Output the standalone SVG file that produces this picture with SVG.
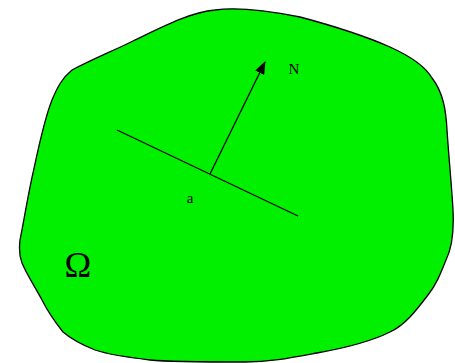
<svg xmlns="http://www.w3.org/2000/svg" width="455" height="363" viewBox="0 0 455 363">
<defs>
<marker id="ah" viewBox="0 0 13 10" refX="12" refY="5" markerWidth="13" markerHeight="10" orient="auto" markerUnits="userSpaceOnUse">
<path d="M0,0 L13,5 L0,10 z" fill="#000"/>
</marker>
<style>
.t{font-family:"Liberation Serif",serif;fill:#000;}
</style>
</defs>
<rect width="455" height="363" fill="#fff"/>
<g id="region">
<path d="M72,70 C95,58 115,50 133,41 C160,28 190,12 215,10 C235,7 260,9 300,17 C330,25 365,36 390,47 C410,56 425,66 432,78 C443,92 446,110 447,130 C449,160 452,190 453,210 C454,230 452,248 446,260 C440,275 436,285 428,295 C415,312 405,325 390,332 C370,342 345,348 317,353 C290,358 270,362 245,362 C210,362 170,362 150,360 C125,357 110,355 95,350 C80,344 70,338 63,332 C55,322 47,310 42,300 C34,285 27,275 22,263 C19,255 19,248 20,240 C24,220 28,195 33,173 C38,150 44,120 52,100 C57,88 62,78 72,70 Z" fill="#00f000" stroke="#000" stroke-width="1.3"/>
</g>
<g id="connectors">
<line x1="117" y1="130" x2="298" y2="216" stroke="#000" stroke-width="1.3"/>
<line x1="210" y1="174" x2="265" y2="62" stroke="#000" stroke-width="1.3" marker-end="url(#ah)"/>
</g>
<g id="label-N"><text class="t" x="294" y="74" font-size="15" text-anchor="middle">N</text></g>
<g id="label-a"><text class="t" x="190" y="203" font-size="15" text-anchor="middle">a</text></g>
<g id="label-omega"><text class="t" x="78" y="277" font-size="36" text-anchor="middle">Ω</text></g>
</svg>
